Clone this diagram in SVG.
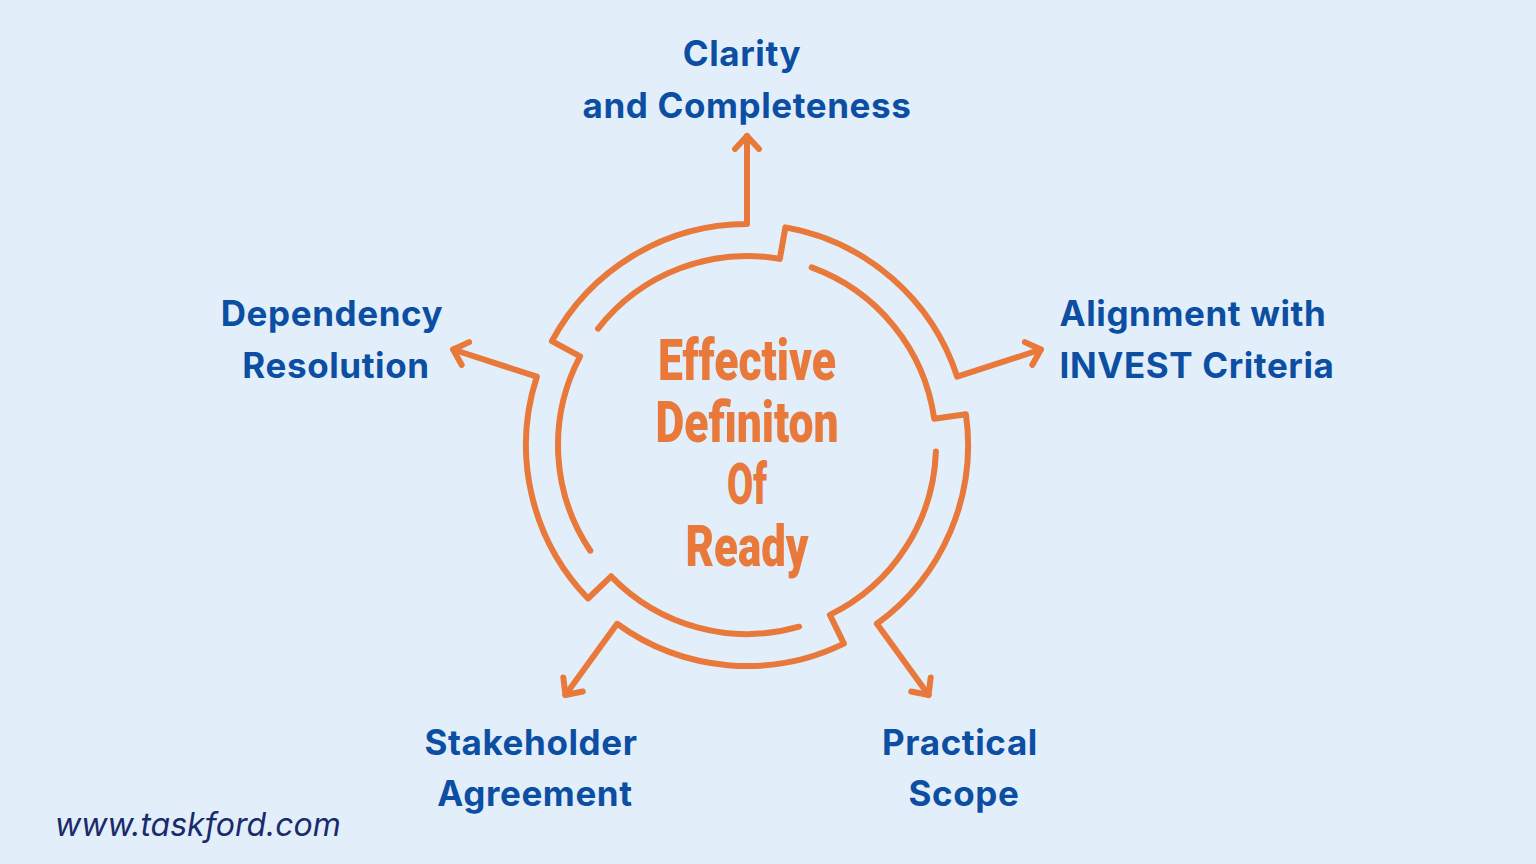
<svg xmlns="http://www.w3.org/2000/svg" width="1536" height="864" viewBox="0 0 1536 864">
<style>
.c{fill:none;stroke:#E8793A;stroke-width:6;stroke-linecap:round;stroke-linejoin:round}
.l{font-family:Inter,"Open Sans",sans-serif;font-weight:700;font-size:35px;letter-spacing:0.6px;fill:#0B4EA2;text-anchor:middle}
.t{font-family:Roboto,"Liberation Sans",sans-serif;font-weight:900;font-size:58px;fill:#E8793A;text-anchor:middle}
</style>
<defs>
<marker id="ah" viewBox="-16 -16 32 32" markerWidth="32" markerHeight="32" markerUnits="userSpaceOnUse" orient="auto" refX="0" refY="0">
<path d="M-13,-12 L0,0 L-13,12" fill="none" stroke="#E8793A" stroke-width="6" stroke-linecap="round" stroke-linejoin="round"/>
</marker>
</defs>
<rect width="1536" height="864" fill="#E3EEFB"/>
<g id="connectors">
<path class="c" marker-end="url(#ah)" d="M598.1,328.6 A189,189 0 0 1 779.8,258.9 L785.4,227.4 A221,221 0 0 1 957.2,376.7 L1040.9,349.5"/>
<path class="c" marker-end="url(#ah)" d="M811.6,267.4 A189,189 0 0 1 934.2,418.7 L965.9,414.2 A221,221 0 0 1 876.9,623.8 L928.6,695"/>
<path class="c" marker-end="url(#ah)" d="M935.9,451.6 A189,189 0 0 1 829.9,614.9 L843.9,643.6 A221,221 0 0 1 617.1,623.8 L565.4,695"/>
<path class="c" marker-end="url(#ah)" d="M799.1,626.7 A189,189 0 0 1 611.1,576.3 L588,598.5 A221,221 0 0 1 536.8,376.7 L453.1,349.5"/>
<path class="c" marker-end="url(#ah)" d="M590.3,550.7 A189,189 0 0 1 580.1,356.3 L551.9,341.2 A221,221 0 0 1 747,224 L747,136"/>
</g>
<g id="center">
<text class="t" x="747" y="380" textLength="178" lengthAdjust="spacingAndGlyphs">Effective</text>
<text class="t" x="747" y="442" textLength="183" lengthAdjust="spacingAndGlyphs">Definiton</text>
<text class="t" x="747" y="504" textLength="40" lengthAdjust="spacingAndGlyphs">Of</text>
<text class="t" x="747" y="566" textLength="123" lengthAdjust="spacingAndGlyphs">Ready</text>
</g>
<g id="n1"><text class="l" x="742" y="66">Clarity</text><text class="l" x="747" y="118">and Completeness</text></g>
<g id="n2"><text class="l" x="1193" y="326">Alignment with</text><text class="l" x="1197" y="378">INVEST Criteria</text></g>
<g id="n3"><text class="l" x="960" y="755">Practical</text><text class="l" x="964" y="806">Scope</text></g>
<g id="n4"><text class="l" x="531" y="755">Stakeholder</text><text class="l" x="535" y="806">Agreement</text></g>
<g id="n5"><text class="l" x="332" y="326">Dependency</text><text class="l" x="336" y="378">Resolution</text></g>
<text x="55" y="836" font-family="Inter,'Open Sans',sans-serif" font-style="italic" font-size="32" fill="#1A2B6B">www.taskford.com</text>
</svg>
